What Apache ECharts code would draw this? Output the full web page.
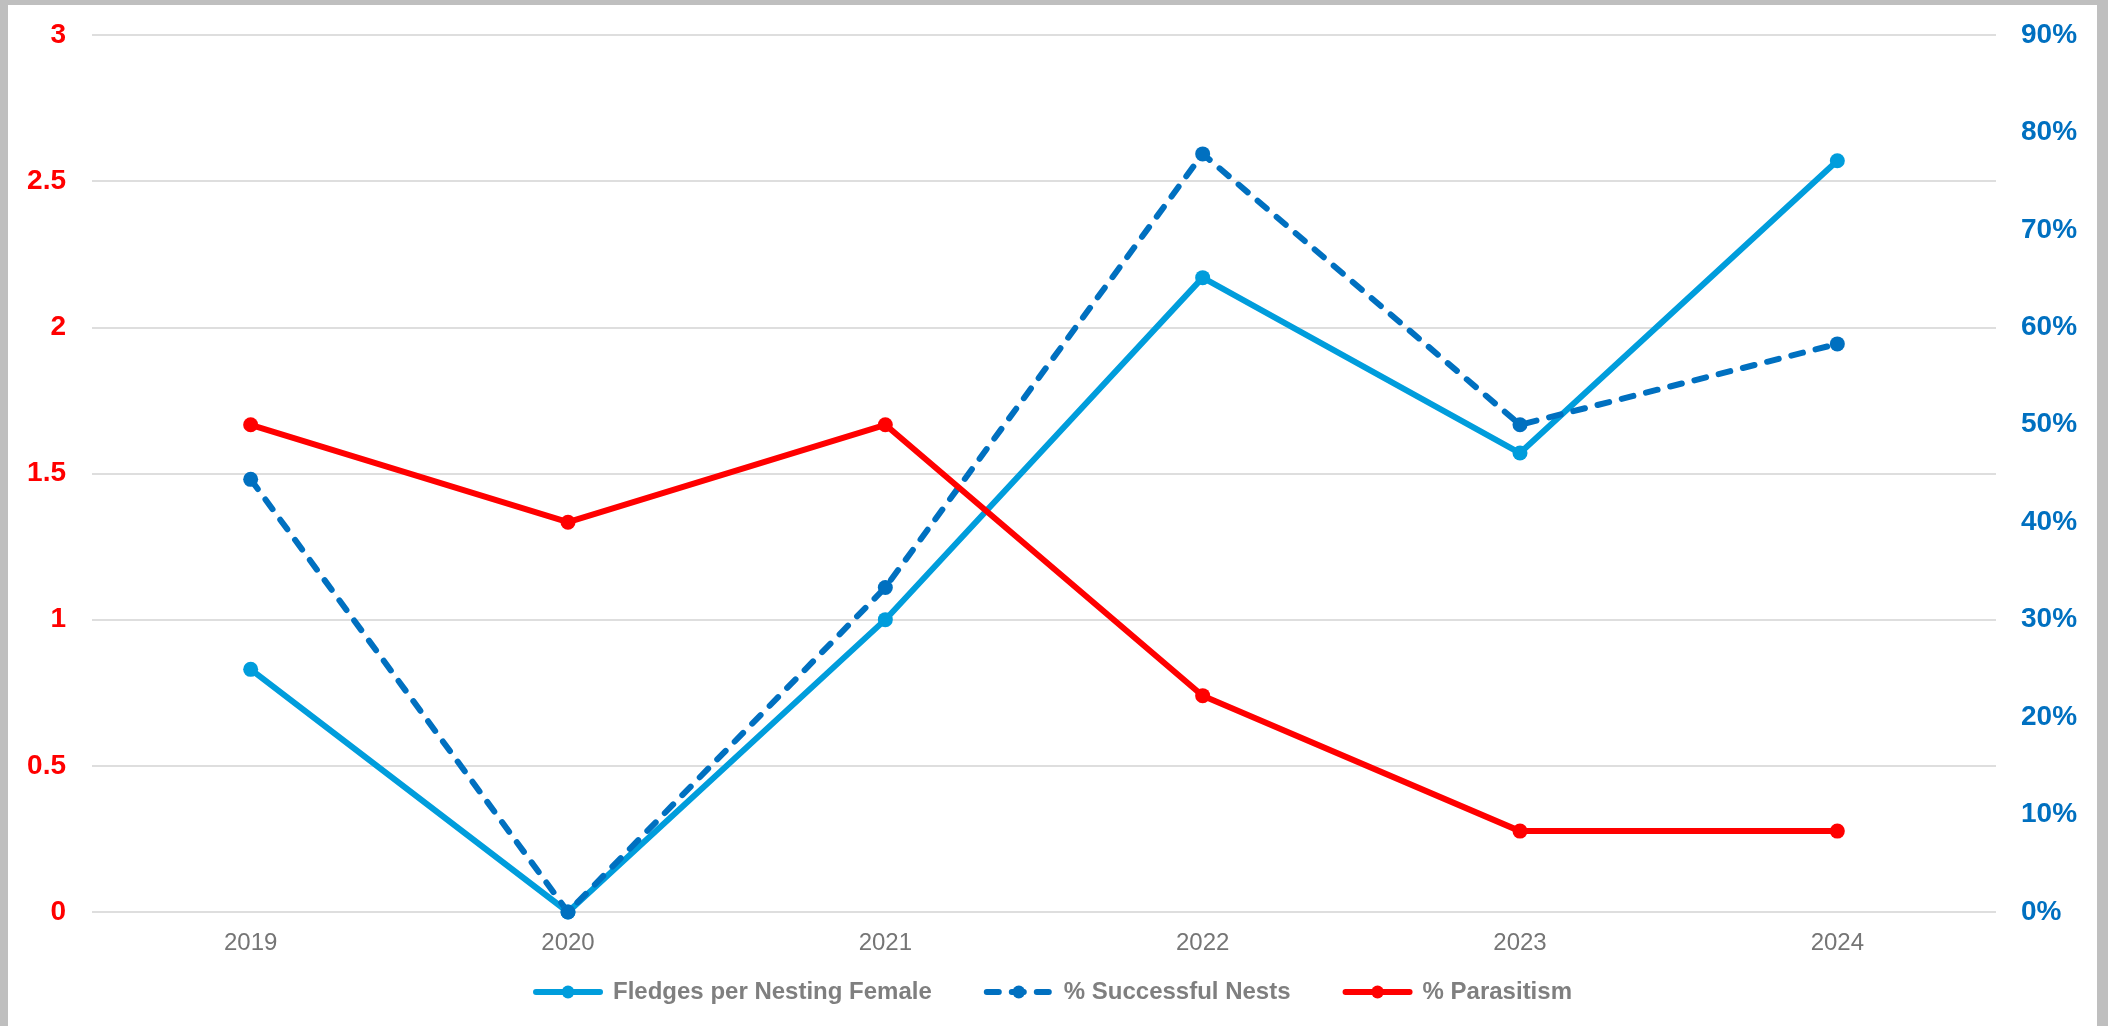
<!DOCTYPE html>
<html>
<head>
<meta charset="utf-8">
<script src="https://cdn.jsdelivr.net/npm/echarts@6/dist/echarts.min.js"></script>
<style>
    html, body {
        margin: 0;
        padding: 0;
        background: #bfbfbf;
        overflow: hidden;
    }
    #chart {
        position: absolute;
        left: 8px;
        top: 5px;
        width: 2089px;
        height: 1021px;
        background: #fff;
    }
</style>
</head>
<body>
<div id="chart"></div>
<script>
const years = ['2019', '2020', '2021', '2022', '2023', '2024'];
// left axis
const fledges = [0.83, 0, 1, 2.17, 1.57, 2.57];
// right axis (percent)
const successfulNests = [44.4, 0, 33.3, 77.8, 50, 58.3];
const parasitism = [50, 40, 50, 22.2, 8.3, 8.3];

const chart = echarts.init(document.getElementById('chart'));

const options = {
    animation: false,
    textStyle: {
        fontFamily: 'Liberation Sans, Arial, sans-serif'
    },
    grid: {
        left: 84,
        right: 101,
        top: 30,
        bottom: 114,
        containLabel: false
    },
    legend: {
        bottom: 17,
        left: 'center',
        itemWidth: 64,
        itemHeight: 16,
        itemGap: 52,
        itemStyle: {borderWidth: 0},
        lineStyle: {width: 6, cap: 'round'},
        textStyle: {
            color: '#7f7f7f',
            fontSize: 24,
            fontWeight: 'bold',
            padding: [0, 0, 0, 8]
        },
        data: ['Fledges per Nesting Female', '% Successful Nests', '% Parasitism']
    },
    xAxis: {
        type: 'category',
        data: years,
        axisLine: {show: false},
        axisTick: {show: false},
        axisLabel: {
            color: '#757575',
            fontSize: 24,
            margin: 19
        }
    },
    yAxis: [
        {
            type: 'value',
            min: 0,
            max: 3,
            interval: 0.5,
            axisLine: {show: false},
            axisTick: {show: false},
            axisLabel: {
                color: '#ff0000',
                fontSize: 28,
                fontWeight: 'bold',
                margin: 26
            },
            splitLine: {
                lineStyle: {color: '#dedede', width: 2}
            }
        },
        {
            type: 'value',
            min: 0,
            max: 90,
            interval: 10,
            axisLine: {show: false},
            axisTick: {show: false},
            axisLabel: {
                color: '#0070c0',
                fontSize: 28,
                fontWeight: 'bold',
                margin: 25,
                formatter: '{value}%'
            },
            splitLine: {show: false}
        }
    ],
    series: [
        {
            name: 'Fledges per Nesting Female',
            type: 'line',
            yAxisIndex: 0,
            data: fledges,
            symbol: 'circle',
            symbolSize: 15,
            itemStyle: {color: '#009ddc'},
            lineStyle: {color: '#009ddc', width: 6}
        },
        {
            name: '% Successful Nests',
            type: 'line',
            yAxisIndex: 1,
            data: successfulNests,
            symbol: 'circle',
            symbolSize: 15,
            itemStyle: {color: '#0070c0'},
            lineStyle: {color: '#0070c0', width: 6, type: [12, 13], cap: 'round'}
        },
        {
            name: '% Parasitism',
            type: 'line',
            yAxisIndex: 1,
            data: parasitism,
            symbol: 'circle',
            symbolSize: 15,
            itemStyle: {color: '#ff0000'},
            lineStyle: {color: '#ff0000', width: 6}
        }
    ]
};

chart.setOption(options);
</script>
</body>
</html>
